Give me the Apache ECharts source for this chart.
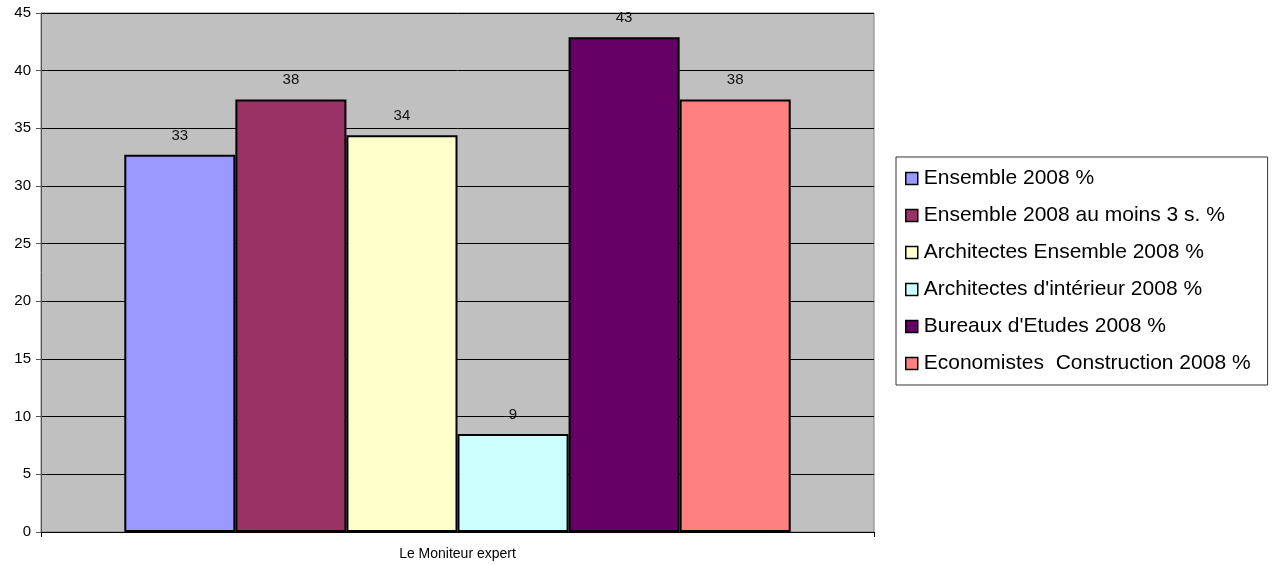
<!DOCTYPE html>
<html>
<head>
<meta charset="utf-8">
<script src="https://cdn.jsdelivr.net/npm/echarts@6/dist/echarts.min.js"></script>
<style>
  html, body { margin: 0; padding: 0; background: #fff; }
  #chart { width: 1277px; height: 565px; }
</style>
</head>
<body>
<div id="chart"></div>
<script>
const categories = ['Le Moniteur expert']
const seriesNames = [
  'Ensemble 2008 %',
  'Ensemble 2008 au moins 3 s. %',
  'Architectes Ensemble 2008 %',
  "Architectes d'intérieur 2008 %",
  "Bureaux d'Etudes 2008 %",
  'Economistes  Construction 2008 %'
]
const seriesValues = [32.7, 37.5, 34.4, 8.5, 42.9, 37.5]
const colors = ['#9999FF', '#993366', '#FFFFCC', '#CCFFFF', '#660066', '#FF8080']

const font = 'Liberation Sans, Arial, sans-serif'

const chart = echarts.init(document.getElementById('chart'))

const series = seriesNames.map((name, i) => ({
  name: name,
  type: 'bar',
  data: [seriesValues[i]],
  barGap: '0%',
  barCategoryGap: '20%',
  itemStyle: { color: colors[i], borderColor: '#000', borderWidth: 2 },
  label: {
    show: true,
    position: 'top',
    distance: 12,
    color: '#111',
    fontFamily: font,
    fontSize: 15,
    formatter: p => Math.round(p.value)
  }
}))

chart.setOption({
  animation: false,
  color: colors,
  grid: {
    left: 41, right: 403, top: 13, bottom: 33,
    show: true,
    backgroundColor: '#C0C0C0',
    borderColor: '#808080',
    borderWidth: 1
  },
  legend: {
    orient: 'vertical',
    left: 896,
    top: 157,
    padding: [11, 17, 11, 9],
    itemWidth: 12,
    itemHeight: 12,
    itemGap: 16,
    icon: 'rect',
    backgroundColor: '#fff',
    borderColor: '#333',
    borderWidth: 1,
    itemStyle: { borderColor: '#000', borderWidth: 1.5 },
    textStyle: { fontFamily: font, fontSize: 21, color: '#000', lineHeight: 21, padding: [0, 0, 0, 1] },
    data: seriesNames
  },
  xAxis: {
    type: 'category',
    data: categories,
    axisLine: { lineStyle: { color: '#000' } },
    axisTick: { show: true, length: 5, lineStyle: { color: '#000' } },
    axisLabel: { color: '#000', fontFamily: font, fontSize: 14, margin: 15 }
  },
  yAxis: {
    type: 'value',
    min: 0,
    max: 45,
    interval: 5,
    axisLine: { show: true, lineStyle: { color: '#555' } },
    axisTick: { show: true, length: 5, lineStyle: { color: '#555' } },
    axisLabel: { color: '#000', fontFamily: font, fontSize: 15, margin: 10 },
    splitLine: { lineStyle: { color: '#000', width: 1 } }
  },
  series: series
})
</script>
</body>
</html>
